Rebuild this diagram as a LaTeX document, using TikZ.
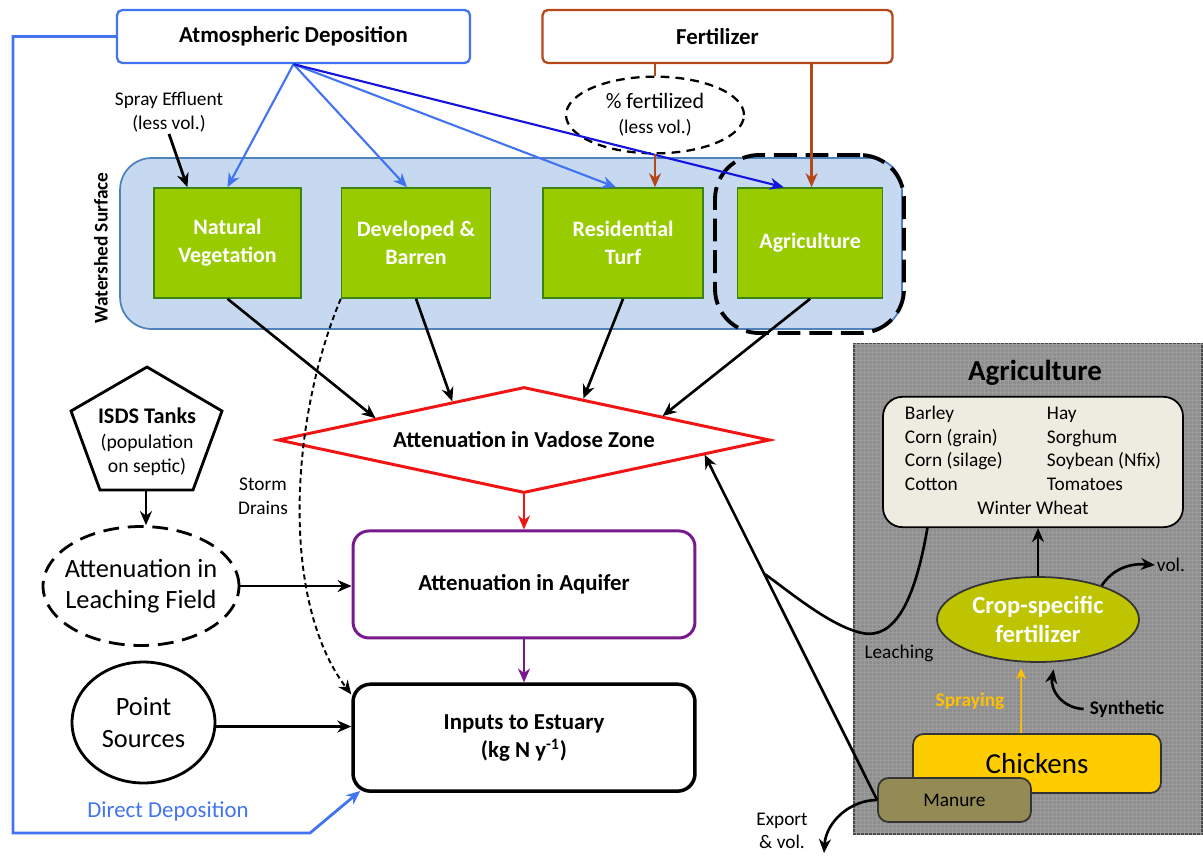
\documentclass[tikz,border=0pt]{standalone}
\usepackage{fontspec}
\setmainfont{Carlito}
\usetikzlibrary{arrows.meta,positioning,shapes.geometric,calc}

\definecolor{atmblue}{RGB}{66,115,240}
\definecolor{deepblue}{RGB}{20,20,225}
\definecolor{fertbrown}{RGB}{180,72,24}
\definecolor{landgreen}{RGB}{153,204,0}
\definecolor{landedge}{RGB}{60,130,20}
\definecolor{shedfill}{RGB}{198,217,241}
\definecolor{shededge}{RGB}{79,129,189}
\definecolor{vadred}{RGB}{240,20,20}
\definecolor{aqpurple}{RGB}{120,25,140}
\definecolor{panelgray}{RGB}{142,142,142}
\definecolor{panelgrid}{RGB}{156,156,156}
\definecolor{cropfill}{RGB}{238,236,225}
\definecolor{fertolive}{RGB}{190,196,0}
\definecolor{chickgold}{RGB}{255,204,0}
\definecolor{manurebrown}{RGB}{148,138,84}
\definecolor{sprayyellow}{RGB}{255,192,0}

\begin{document}
\begin{tikzpicture}[
    x=0.02cm, y=-0.02cm,
    srcbox/.style={draw, fill=white, rounded corners=3pt, line width=1.3pt,
                   minimum width=7.06cm, minimum height=1.06cm,
                   font=\fontsize{13}{15}\selectfont\bfseries},
    landbox/.style={draw=landedge, fill=landgreen, line width=0.9pt,
                    minimum height=2.2cm, align=center, text=white,
                    font=\fontsize{12.5}{16}\selectfont\bfseries},
    flowbox/.style={draw, rounded corners=9pt, line width=1.7pt,
                    minimum width=6.84cm, minimum height=2.14cm, align=center,
                    font=\fontsize{13}{16}\selectfont\bfseries},
    lbl/.style={font=\fontsize{11}{13.5}\selectfont, align=center, inner sep=1pt},
    arr/.style={-{Stealth[length=2.8mm,width=2.4mm]}, line width=1.5pt},
    atmarr/.style={arr, atmblue, line width=1.2pt},
    fertarr/.style={arr, fertbrown, line width=1.6pt}
  ]
  \useasboundingbox (0,0) rectangle (1203,856);

  % Sources on top
  \node[srcbox, draw=atmblue] (atmdep) at (293.5,36.5) {Atmospheric Deposition};
  \node[srcbox, draw=fertbrown, minimum width=7cm] (fert) at (717.5,36.5) {Fertilizer};

  % Watershed surface with land uses
  \node[draw=shededge, fill=shedfill, line width=1pt, rounded corners=18pt,
        minimum width=15.64cm, minimum height=3.42cm] (shed) at (511,243.5) {};
  \node[rotate=90, font=\fontsize{11}{13}\selectfont\bfseries] (shedlbl) at (101,248) {Watershed Surface};
  \node[landbox, minimum width=2.94cm] (natveg) at (227.5,243) {Natural\\Vegetation};
  \node[landbox, minimum width=2.98cm, right=0.78cm of natveg] (devbar) {Developed \&\\Barren};
  \node[landbox, minimum width=3.2cm, right=1.02cm of devbar] (resturf) {Residential\\Turf};
  \node[landbox, minimum width=2.9cm, right=0.66cm of resturf] (agland) {Agriculture};
  \node[draw, dash pattern=on 13pt off 5pt, line width=2.2pt, rounded corners=25pt,
        minimum width=3.78cm, minimum height=3.56cm] (agdash) at (809.5,244) {};

  \node[ellipse, draw, dash pattern=on 5pt off 3.5pt, line width=1.3pt,
        minimum width=3.56cm, minimum height=1.3cm, align=center,
        font=\fontsize{12.5}{14}\selectfont] (pctfert) at (655,115)
        {\% fertilized\\{\fontsize{11}{13}\selectfont(less vol.)}};
  \node[lbl] (spray) at (169,112) {Spray Effluent\\(less vol.)};

  % Atmospheric and fertilizer inputs
  \draw[atmarr] (atmdep.south) -- (natveg.north);
  \draw[atmarr] (atmdep.south) -- ($(devbar.north west)!0.44!(devbar.north east)$);
  \draw[atmarr] (atmdep.south) -- ($(resturf.north west)!0.456!(resturf.north east)$);
  \draw[atmarr, deepblue] (atmdep.south) -- ($(agland.north west)!0.32!(agland.north east)$);
  \draw[arr, line width=1.6pt] (spray.south) -- ($(natveg.north west)!0.23!(natveg.north east)$);
  \draw[fertbrown, line width=1.6pt] (fert.south -| pctfert.north) -- (pctfert.north);
  \draw[fertarr] (pctfert.south) -- (pctfert.south |- resturf.north);
  \coordinate (fertdrop) at ($(fert.south west)!0.767!(fert.south east)$);
  \draw[fertarr] (fertdrop) -- (fertdrop |- agland.north);

  % Subsurface chain
  \node[diamond, draw=vadred, fill=white, line width=1.7pt, aspect=4.6, inner sep=0pt,
        minimum width=9.84cm, minimum height=2.12cm,
        font=\fontsize{13}{15}\selectfont\bfseries] (vadose) at (524,440) {Attenuation in Vadose Zone};
  \node[flowbox, draw=aqpurple, below=0.7cm of vadose] (aquifer) {Attenuation in Aquifer};
  \node[flowbox, line width=2pt, rounded corners=10pt, below=0.86cm of aquifer] (estuary)
        {Inputs to Estuary\\(kg N y\textsuperscript{-1})};

  \draw[arr] (natveg.south) -- ($(vadose.west)!0.40!(vadose.north)$);
  \draw[arr] (devbar.south) -- ($(vadose.west)!0.71!(vadose.north)$);
  \draw[arr] (resturf.south) -- ($(vadose.north)!0.24!(vadose.east)$);
  \draw[arr] (agland.south) -- ($(vadose.north)!0.56!(vadose.east)$);
  \draw[arr, vadred, line width=1.2pt] (vadose.south) -- (aquifer.north);
  \draw[arr, aqpurple, line width=1.2pt] (aquifer.south) -- (estuary.north);

  % Septic, point sources, storm drains
  \draw[line width=1.6pt, line join=miter] (147,367) -- (222,411) -- (193,490) -- (100,490) -- (71,411) -- cycle;
  \coordinate (isdsbase) at (146,490);
  \node[align=center, font=\fontsize{11.2}{14}\selectfont] (isds) at (147,442)
        {{\fontsize{12.7}{14}\selectfont\bfseries ISDS Tanks}\\(population\\on septic)};
  \node[ellipse, draw, dash pattern=on 9pt off 5pt, line width=1.6pt,
        inner xsep=-5pt, inner ysep=0pt, minimum width=3.92cm, minimum height=2.38cm,
        align=center, font=\fontsize{15}{17.5}\selectfont] (leachfield) at (141,586)
        {Attenuation in\\Leaching Field};
  \node[ellipse, draw, line width=1.6pt, minimum width=2.86cm, minimum height=2.42cm,
        align=center, font=\fontsize{15}{18}\selectfont] (pointsrc) at (143.5,722.5) {Point\\Sources};

  \draw[arr] (isdsbase) -- (isdsbase |- leachfield.north);
  \draw[arr] (leachfield.east) -- (leachfield.east -| aquifer.west);
  \draw[arr] ($(pointsrc.east)+(0,4)$) -- ($(pointsrc.east -| estuary.west)+(0,4)$);
  \draw[arr, dash pattern=on 3pt off 2pt, line width=1.1pt] (devbar.south west)
        .. controls (290,420) and (280,600) .. ($(estuary.north west)+(0,12)$);
  \node[lbl] (stormlbl) at (263,496) {Storm\\Drains};

  % Direct deposition
  \draw[atmarr, line width=1.6pt] (atmdep.west) -| (13,833) -- (310,833) -- ($(estuary.south west)+(9,-2)$);
  \node[font=\fontsize{13}{15}\selectfont, text=atmblue] (directlbl) at (168,811) {Direct Deposition};

  % Agriculture detail panel
  \node[draw=black!70, fill=panelgray, line width=0.8pt,
        minimum width=6.96cm, minimum height=9.8cm] (agpanel) at (1028,589) {};
  \begin{scope}
    \clip (agpanel.south west) rectangle (agpanel.north east);
    \draw[panelgrid, line width=0.2pt, step=0.08cm] (agpanel.south west) grid (agpanel.north east);
  \end{scope}
  \node[font=\fontsize{16.5}{18}\selectfont\bfseries] (agtitle) at (1035,373) {Agriculture};
  \node[draw, fill=cropfill, rounded corners=11pt, line width=1pt,
        minimum width=6cm, minimum height=2.6cm, font=\fontsize{11}{13.5}\selectfont] (crops) at (1033,462)
        {\begin{tabular}{@{}p{2.84cm}@{}l@{}}
           Barley & Hay\\
           Corn (grain) & Sorghum\\
           Corn (silage) & Soybean (Nfix)\\
           Cotton & Tomatoes\\
           \multicolumn{2}{c}{Winter Wheat}
         \end{tabular}};
  \node[ellipse, draw=black!80, fill=fertolive, line width=1pt,
        minimum width=4.04cm, minimum height=1.7cm, align=center, text=white,
        font=\fontsize{14}{16.5}\selectfont\bfseries] (cropfert) at (1038,619.5) {Crop-specific\\fertilizer};
  \node[draw=black!80, fill=chickgold, rounded corners=6pt, line width=1pt,
        minimum width=4.96cm, minimum height=1.18cm, font=\fontsize{16.5}{18}\selectfont] (chickens) at (1037,763.5) {Chickens};
  \node[draw=black!80, fill=manurebrown, rounded corners=6pt, line width=1pt,
        minimum width=3.06cm, minimum height=0.88cm, font=\fontsize{11}{13}\selectfont] (manure) at (954.5,800) {Manure};

  \node[lbl] (vollbl) at (1171,565) {vol.};
  \node[font=\fontsize{11}{13}\selectfont\bfseries] (synthlbl) at (1127,709) {Synthetic};
  \node[font=\fontsize{11}{13}\selectfont\bfseries, text=sprayyellow] (spraylbl) at (970,701) {Spraying};
  \node[lbl] (leachlbl) at (899,653) {Leaching};
  \node[lbl] (exportlbl) at (782,831) {Export\\\& vol.};

  \draw[arr] (cropfert.north) -- (cropfert.north |- crops.south);
  \draw[arr] (cropfert.28) .. controls (1112,570) and (1128,563) .. (vollbl.west);
  \draw[arr] (synthlbl.west) .. controls (1062,708) and (1050,690) .. ([yshift=-4pt]cropfert.-70);
  \draw[sprayyellow, -{Stealth[length=2.2mm,width=2mm]}, line width=0.9pt]
        ([xshift=-9.1pt]chickens.north) -- ([xshift=-9.6pt,yshift=-3pt]cropfert.south);

  % Manure and leaching back to the vadose zone
  \coordinate (vadtip) at ($(vadose.east)!0.27!(vadose.south)$);
  \draw[arr] (manure.west) -- (vadtip);
  \coordinate (leachjoin) at ($(manure.west)!0.656!(vadtip)$);
  \draw[line width=1.5pt] ($(crops.south west)!0.15!(crops.south east)$)
        .. controls (915,600) and (895,640) .. (862,633)
        .. controls (830,626) and (790,592) .. (leachjoin);
  \coordinate (exportend) at (824,853);
  \draw[arr] (manure.west) .. controls (850,800) and (826,822) .. (exportend);
\end{tikzpicture}
\end{document}
